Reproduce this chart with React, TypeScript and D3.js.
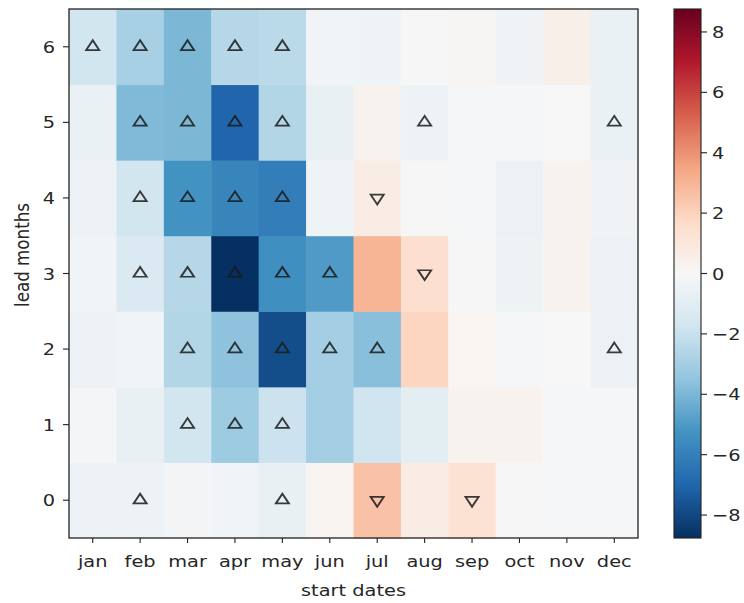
import React from "react";
import * as d3 from "d3";

// Start-date months (columns) and lead months (rows)
const months = ["jan", "feb", "mar", "apr", "may", "jun", "jul", "aug", "sep", "oct", "nov", "dec"];
const leads = [0, 1, 2, 3, 4, 5, 6];

// Anomaly values, one row per lead month (lead 0 first), one entry per start month
const lead0 = [-0.5, -0.5, -0.25, -0.3, -0.65, 0.2, 2.6, 0.7, 1.3, 0.05, -0.1, -0.1];
const lead1 = [-0.2, -0.65, -1.7, -3.2, -1.9, -3.0, -1.75, -0.9, 0.3, 0.3, -0.1, -0.1];
const lead2 = [-0.5, -0.3, -2.6, -3.6, -7.8, -3.0, -3.7, 1.9, 0.15, -0.1, 0.0, -0.55];
const lead3 = [-0.3, -1.3, -2.5, -8.76, -5.4, -5.0, 3.0, 1.5, 0.05, -0.45, 0.3, -0.5];
const lead4 = [-0.5, -1.7, -5.3, -5.8, -6.1, -0.4, 0.7, 0.05, -0.1, -0.55, 0.3, -0.35];
const lead5 = [-0.6, -3.9, -4.0, -7.0, -2.6, -0.7, 0.3, -0.5, -0.1, -0.1, 0.0, -0.6];
const lead6 = [-1.7, -2.9, -4.0, -2.5, -2.4, -0.3, -0.4, -0.05, 0.1, -0.35, 0.5, -0.6];
const values = [lead0, lead1, lead2, lead3, lead4, lead5, lead6];

// Significance markers: 1 = significant increase (up), -1 = significant decrease (down)
const sig0 = [0, 1, 0, 0, 1, 0, -1, 0, -1, 0, 0, 0];
const sig1 = [0, 0, 1, 1, 1, 0, 0, 0, 0, 0, 0, 0];
const sig2 = [0, 0, 1, 1, 1, 1, 1, 0, 0, 0, 0, 1];
const sig3 = [0, 1, 1, 1, 1, 1, 0, -1, 0, 0, 0, 0];
const sig4 = [0, 1, 1, 1, 1, 0, -1, 0, 0, 0, 0, 0];
const sig5 = [0, 1, 1, 1, 1, 0, 0, 1, 0, 0, 0, 1];
const sig6 = [1, 1, 1, 1, 1, 0, 0, 0, 0, 0, 0, 0];
const significance = [sig0, sig1, sig2, sig3, sig4, sig5, sig6];

const colorTicks = [-8, -6, -4, -2, 0, 2, 4, 6, 8];
const vLimit = 8.76;

// Diverging red-blue palette (blue = negative, red = positive)
const paletteStops = [
  "#053061", "#2166ac", "#4393c3", "#92c5de", "#d1e5f0", "#f7f7f7",
  "#fddbc7", "#f4a582", "#d6604d", "#b2182b", "#67001f",
];

const W = 744;
const H = 603;
const plot = { left: 69, top: 9, right: 638, bottom: 538 };
const cbar = { left: 674, right: 701, top: 9, bottom: 538 };
const font = "DejaVu Sans, sans-serif";
const fs = 16.7;
const sx = 1.16; // horizontal glyph stretch

const Label = ({ x, y, anchor = "start", children }: { x: number; y: number; anchor?: string; children: React.ReactNode }) => (
  <g transform={`translate(${x},${y}) scale(${sx},1)`}>
    <text x={0} y={0} textAnchor={anchor} fontFamily={font} fontSize={fs} fill="#262626">{children}</text>
  </g>
);

export default function App() {
  const x = d3.scaleBand<string>().domain(months).range([plot.left, plot.right]).padding(0);
  const y = d3.scaleBand<number>().domain([...leads].reverse()).range([plot.top, plot.bottom]).padding(0);
  const color = d3
    .scaleLinear<string>()
    .domain(d3.range(paletteStops.length).map((i) => -vLimit + (2 * vLimit * i) / (paletteStops.length - 1)))
    .range(paletteStops)
    .interpolate(d3.interpolateRgb)
    .clamp(true);
  const cy = d3.scaleLinear().domain([-vLimit, vLimit]).range([cbar.bottom, cbar.top]);

  const cells: React.ReactElement[] = [];
  const markers: React.ReactElement[] = [];
  const tri = d3.symbol().type(d3.symbolTriangle).size(55)();
  leads.forEach((lead, r) => {
    months.forEach((m, c) => {
      const v = values[r][c];
      cells.push(
        <rect key={`c${r}-${c}`} x={x(m)!} y={y(lead)!} width={x.bandwidth() + 0.5} height={y.bandwidth() + 0.5}
          fill={color(v)} />
      );
      const s = significance[r][c];
      if (s !== 0) {
        const cx = x(m)! + x.bandwidth() / 2;
        const cyy = y(lead)! + y.bandwidth() / 2;
        markers.push(
          <path key={`m${r}-${c}`} d={tri!}
            transform={`translate(${cx},${cyy}) scale(${sx},1) rotate(${s > 0 ? 0 : 180})`}
            fill="none" stroke="#1a1a1a" strokeWidth={1.7} strokeOpacity={0.85} strokeLinejoin="miter" />
        );
      }
    });
  });

  const gradStops = d3.range(0, 1.0001, 0.02).map((t) => ({ t, c: color(-vLimit + 2 * vLimit * t) }));

  return (
    <svg width={W} height={H} style={{ position: "absolute", left: 0, top: 0, background: "#fff" }}>
      <defs>
        <linearGradient id="cbarGrad" x1="0" y1="1" x2="0" y2="0">
          {gradStops.map((s) => (
            <stop key={s.t} offset={s.t} stopColor={s.c} />
          ))}
        </linearGradient>
      </defs>
      <rect x={0} y={0} width={W} height={H} fill="#fff" />
      {cells}
      {markers}
      <rect x={plot.left} y={plot.top} width={plot.right - plot.left} height={plot.bottom - plot.top}
        fill="none" stroke="#222" strokeWidth={1.3} />

      {/* x axis */}
      {months.map((m) => {
        const cx = x(m)! + x.bandwidth() / 2;
        return (
          <g key={m}>
            <line x1={cx} x2={cx} y1={plot.bottom} y2={plot.bottom + 5} stroke="#222" strokeWidth={1.1} />
            <Label x={cx} y={plot.bottom + 29} anchor="middle">{m}</Label>
          </g>
        );
      })}
      <Label x={(plot.left + plot.right) / 2} y={596} anchor="middle">start dates</Label>

      {/* y axis */}
      {leads.map((l) => {
        const cyy = y(l)! + y.bandwidth() / 2;
        return (
          <g key={l}>
            <line x1={plot.left - 6} x2={plot.left} y1={cyy} y2={cyy} stroke="#222" strokeWidth={1.1} />
            <Label x={plot.left - 14} y={cyy + 6} anchor="end">{l}</Label>
          </g>
        );
      })}
      <g transform={`translate(28.5,255) scale(${sx},1) rotate(-90)`}>
        <text x={0} y={0} textAnchor="middle" fontFamily={font} fontSize={fs} fill="#262626">lead months</text>
      </g>

      {/* colour bar */}
      <rect x={cbar.left} y={cbar.top} width={cbar.right - cbar.left} height={cbar.bottom - cbar.top}
        fill="url(#cbarGrad)" stroke="#222" strokeWidth={1.1} />
      {colorTicks.map((t) => (
        <g key={t}>
          <line x1={cbar.right} x2={cbar.right + 6} y1={cy(t)} y2={cy(t)} stroke="#222" strokeWidth={1.1} />
          <Label x={cbar.right + 11} y={cy(t) + 6}>{t < 0 ? `\u2212${-t}` : `${t}`}</Label>
        </g>
      ))}
    </svg>
  );
}
